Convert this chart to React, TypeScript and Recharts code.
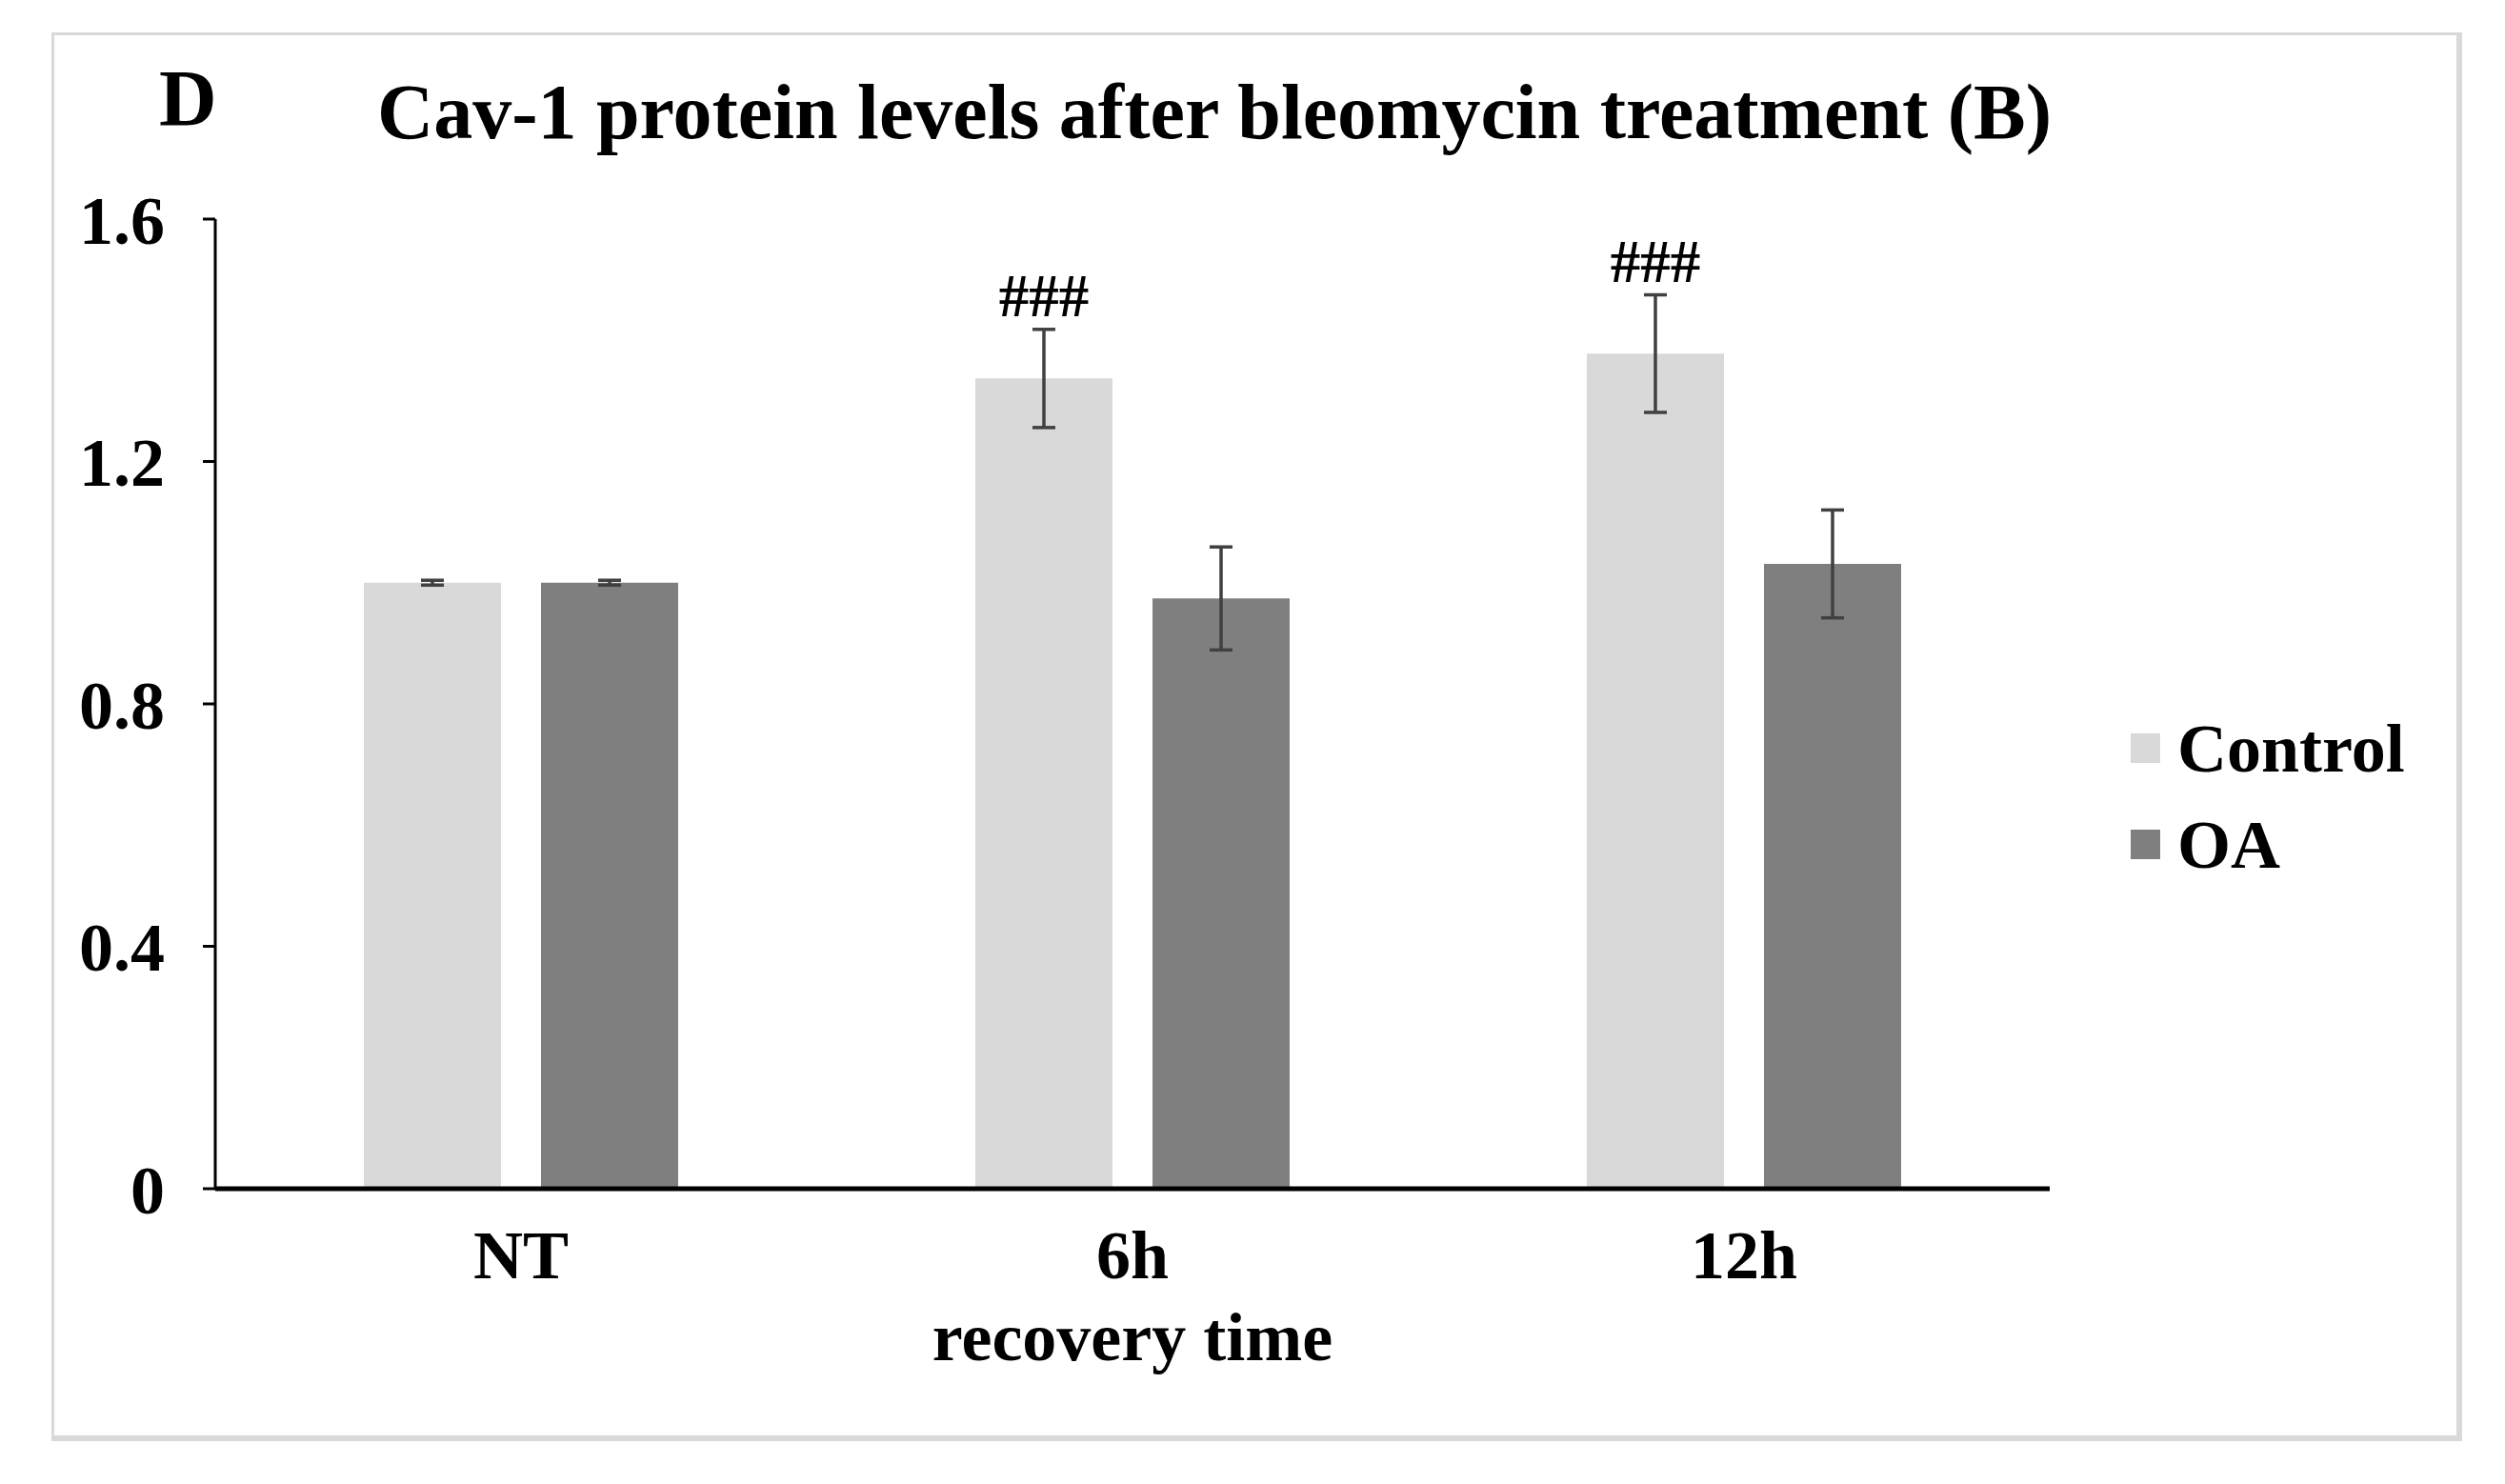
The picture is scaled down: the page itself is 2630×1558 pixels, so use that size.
import { BarChart, Bar, XAxis, YAxis, ErrorBar, Legend, LabelList, Label, Customized } from 'recharts';

const categories = ['NT', '6h', '12h'];
const controlValues = [1.0, 1.337, 1.378];
const controlErrors = [0.004, 0.081, 0.097];
const oaValues = [1.0, 0.974, 1.031];
const oaErrors = [0.004, 0.085, 0.089];
const significance = ['', '###', '###'];
const yTicks = [0, 0.4, 0.8, 1.2, 1.6];

const FONT = "'Liberation Serif', 'Times New Roman', serif";

const data = categories.map((name, i) => ({
    name,
    control: controlValues[i],
    controlErr: controlErrors[i],
    oa: oaValues[i],
    oaErr: oaErrors[i],
    mark: significance[i],
}));

// "###" sits just above the top of the control error bar
function SignificanceLabel(props: any) {
    const { x, y, width, height, index, value } = props;
    if (!value) return null;
    const pxPerUnit = height / controlValues[index];
    const errTop = y - controlErrors[index] * pxPerUnit;
    return (
        <text x={x + width / 2} y={errTop - 14} textAnchor="middle" fontFamily={FONT} fontWeight="bold" fontSize={63} fill="#000">
            {value}
        </text>
    );
}

function TitleBlock() {
    return (
        <g>
            <text x={167} y={132} fontFamily={FONT} fontWeight="bold" fontSize={84} fill="#000">D</text>
            <text x={1275} y={145} textAnchor="middle" fontFamily={FONT} fontWeight="bold" fontSize={82} fill="#000">
                Cav-1 protein levels after bleomycin treatment (B)
            </text>
        </g>
    );
}

const renderLegend = (props: any) => (
    <div>
        {(props.payload || []).map((entry: any) => (
            <div key={entry.value} style={{ display: 'flex', alignItems: 'center', height: 101 }}>
                <span style={{ display: 'inline-block', width: 31, height: 31, background: entry.color, marginRight: 18 }} />
                <span style={{ fontFamily: FONT, fontWeight: 'bold', fontSize: 72, lineHeight: 1, color: '#000' }}>
                    {entry.value}
                </span>
            </div>
        ))}
    </div>
);

const tickStyle = { fontFamily: FONT, fontWeight: 'bold', fontSize: 72, fill: '#000' };

export default function App() {
    return (
        <div style={{ position: 'absolute', left: 0, top: 0, width: 2630, height: 1558, background: '#fff' }}>
            <div
                style={{
                    position: 'absolute', left: 54, top: 34, width: 2522, height: 1470,
                    borderStyle: 'solid', borderColor: '#d9d9d9',
                    borderWidth: '3px 6px 6px 3px',
                }}
            />
            <div style={{ position: 'absolute', left: 0, top: 0 }}>
                <BarChart
                    width={2630}
                    height={1558}
                    data={data}
                    margin={{ top: 230, right: 478, bottom: 110, left: 0 }}
                    barSize={144}
                    barGap={42}
                >
                    <XAxis
                        dataKey="name"
                        height={200}
                        tickLine={false}
                        tickSize={0}
                        tickMargin={43}
                        axisLine={{ stroke: '#000', strokeWidth: 5 }}
                        tick={tickStyle}
                    >
                        <Label
                            value="recovery time"
                            position="insideBottom"
                            offset={20}
                            style={{ fontFamily: FONT, fontWeight: 'bold', fontSize: 72, fill: '#000' }}
                        />
                    </XAxis>
                    <YAxis
                        width={226}
                        domain={[0, 1.6]}
                        ticks={yTicks}
                        interval={0}
                        tickSize={13}
                        tickMargin={40}
                        tickFormatter={(v: number) => (v === 0 ? '0' : v.toFixed(1))}
                        axisLine={{ stroke: '#000', strokeWidth: 3 }}
                        tickLine={{ stroke: '#000', strokeWidth: 3 }}
                        tick={tickStyle}
                    />
                    <Legend
                        layout="vertical"
                        align="center"
                        verticalAlign="middle"
                        wrapperStyle={{ left: 2237, top: 735, width: 360 }}
                        content={renderLegend}
                    />
                    <Bar dataKey="control" name="Control" fill="#d9d9d9" isAnimationActive={false}>
                        <ErrorBar dataKey="controlErr" width={12} stroke="#404040" strokeWidth={3.5} />
                        <LabelList dataKey="mark" content={SignificanceLabel} />
                    </Bar>
                    <Bar dataKey="oa" name="OA" fill="#7f7f7f" isAnimationActive={false}>
                        <ErrorBar dataKey="oaErr" width={12} stroke="#404040" strokeWidth={3.5} />
                    </Bar>
                    <Customized component={<TitleBlock />} />
                </BarChart>
            </div>
        </div>
    );
}
